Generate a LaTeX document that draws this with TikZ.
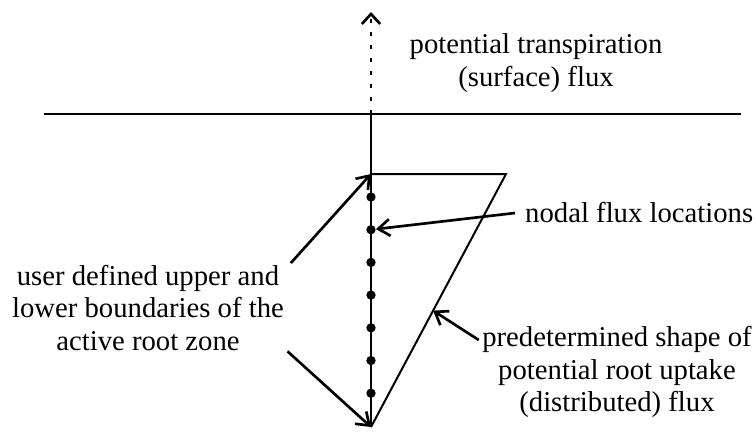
\documentclass[tikz,border=0pt]{standalone}
\usepackage{fontspec}
\setmainfont{Liberation Serif}
\usetikzlibrary{arrows.meta, calc}

\begin{document}
\begin{tikzpicture}[
    x=0.3mm, y=-0.3mm,
    lbl/.style={font=\fontsize{24.5}{28}\selectfont, align=center,
                inner sep=3mm},
    arr/.style={-{Straight Barb[length=3.5mm, width=5mm]}, line width=0.8mm},
    fluxdot/.style={circle, fill=black, inner sep=0pt, minimum size=2.8mm},
    ground/.style={line width=0.6mm},
    uptake/.style={line width=0.6mm, line join=miter}
]
\useasboundingbox (0,0) rectangle (756,431);

% ===================================================================
% SOIL SURFACE AND ROOT COLUMN
% ===================================================================
\coordinate (surfL) at (44,114);
\coordinate (surfR) at (741,114);
\coordinate (surf)  at (371,114);
\coordinate (sky)   at (371,12);
\coordinate (top)   at (371,174);
\coordinate (edge)  at (506,174);
\coordinate (base)  at (371,427);

\draw[ground] (surfL) -- (surfR);
\draw[line width=0.8mm, dash pattern=on 1.2mm off 2.7mm,
      -{Straight Barb[length=3mm, width=5.5mm]}] (surf) -- (sky);
\draw[line width=0.75mm] (surf) -- (base);

% uptake distribution
\draw[uptake] (top) -- (edge) -- (base);

% nodes along the root zone
\foreach \i in {1,...,7} {
    \node[fluxdot] (d\i) at (371,{197+32.7*(\i-1)}) {};
}

% ===================================================================
% LABELS
% ===================================================================
\node[lbl] (flux) at (536,63)
    {potential transpiration\\(surface) flux};

\node[lbl, anchor=west] (nodal) at (515,213) {nodal flux locations};

\node[lbl] (user) at (148,308)
    {user defined upper and\\lower boundaries of the\\active root zone};

\node[lbl] (pred) at (617,372)
    {predetermined shape of\\potential root uptake\\(distributed) flux};

% ===================================================================
% ARROWS
% ===================================================================
\coordinate (pshape) at ($(edge)!0.54!(base)$);

\draw[arr] ([xshift=-1mm, yshift=-2.5mm]user.north east) -- (top);
\draw[arr] ([xshift=-2mm, yshift=3mm]user.south east) -- (base);
\draw[arr] (nodal.west) -- (d2);
\draw[arr] ([xshift=2mm, yshift=9.6mm]pred.west) -- (pshape);

\end{tikzpicture}
\end{document}
